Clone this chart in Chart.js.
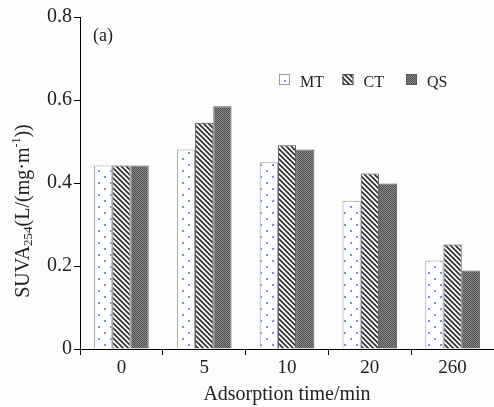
<!DOCTYPE html>
<html>
<head>
<meta charset="utf-8">
<script src="https://cdn.jsdelivr.net/npm/chart.js@4.4.0/dist/chart.umd.min.js"></script>
<style>
  html, body { margin: 0; padding: 0; background: #fdfdfd; }
  #wrap { width: 494px; height: 407px; }
</style>
</head>
<body>
<div id="wrap"><canvas id="suvaChart" width="494" height="407"></canvas></div>
<script>
// Data
const times = ["0", "5", "10", "20", "260"];
const mtValues = [0.442, 0.481, 0.450, 0.357, 0.213];
const ctValues = [0.442, 0.545, 0.491, 0.423, 0.252];
const qsValues = [0.442, 0.585, 0.481, 0.399, 0.189];
const yTicks = [0, 0.2, 0.4, 0.6, 0.8];

const serif = "'Liberation Serif', 'Times New Roman', serif";

// Fill patterns for the bars
function makePattern(w, h, draw) {
  const tile = document.createElement("canvas");
  tile.width = w;
  tile.height = h;
  draw(tile.getContext("2d"));
  return document.createElement("canvas").getContext("2d").createPattern(tile, "repeat");
}

const dotPattern = makePattern(12, 12, function (c) {
  c.fillStyle = "#ffffff";
  c.fillRect(0, 0, 12, 12);
  c.fillStyle = "#7196e2";
  c.fillRect(2, 2, 2, 2);
  c.fillRect(8, 8, 2, 2);
});

const stripePattern = makePattern(5, 5, function (c) {
  c.fillStyle = "#ffffff";
  c.fillRect(0, 0, 5, 5);
  c.strokeStyle = "#333333";
  c.lineWidth = 1.8;
  c.beginPath();
  c.moveTo(-1, -1); c.lineTo(6, 6);
  c.moveTo(-1, 4); c.lineTo(1, 6);
  c.moveTo(4, -1); c.lineTo(6, 1);
  c.stroke();
});

const checkPattern = makePattern(2, 2, function (c) {
  c.fillStyle = "#8a8a8a";
  c.fillRect(0, 0, 2, 2);
  c.fillStyle = "#4e4e4e";
  c.fillRect(0, 0, 1, 1);
  c.fillRect(1, 1, 1, 1);
});

// Y axis title with subscript and superscript, "(a)" tag and the legend
const extrasPlugin = {
  id: "extras",
  afterDraw(chart) {
    const ctx = chart.ctx;
    ctx.save();
    ctx.fillStyle = "#222";
    ctx.textBaseline = "alphabetic";

    // (a)
    ctx.font = "18px " + serif;
    ctx.textAlign = "left";
    ctx.fillText("(a)", 93, 41);

    // y title
    const parts = [
      { t: "SUVA", size: 20, dy: 0 },
      { t: "254", size: 13, dy: 3 },
      { t: "(L/(mg\u00b7m", size: 20, dy: 0 },
      { t: "-1", size: 12, dy: -9 },
      { t: "))", size: 20, dy: 0 }
    ];
    let total = 0;
    parts.forEach(p => {
      ctx.font = p.size + "px " + serif;
      p.w = ctx.measureText(p.t).width;
      total += p.w;
    });
    ctx.translate(29, 211);
    ctx.rotate(-Math.PI / 2);
    let x = -total / 2;
    parts.forEach(p => {
      ctx.font = p.size + "px " + serif;
      ctx.fillText(p.t, x, p.dy);
      x += p.w;
    });
    ctx.setTransform(1, 0, 0, 1, 0, 0);

    // legend
    const startX = 279, stepX = 63.5, boxY = 74;
    ctx.font = "16px " + serif;
    chart.data.datasets.forEach((ds, i) => {
      const bx = startX + i * stepX;
      ctx.fillStyle = ds.backgroundColor;
      ctx.fillRect(bx, boxY, 10, 10);
      ctx.strokeStyle = ds.borderColor;
      ctx.lineWidth = 1;
      ctx.strokeRect(bx + 0.5, boxY + 0.5, 10, 10);
      ctx.fillStyle = "#222";
      ctx.fillText(ds.label, bx + 21, 87);
    });
    ctx.restore();
  }
};

new Chart(document.getElementById("suvaChart"), {
  type: "bar",
  data: {
    labels: times,
    datasets: [
      { label: "MT", data: mtValues, backgroundColor: dotPattern, borderColor: "#9a9a9a", borderWidth: 1 },
      { label: "CT", data: ctValues, backgroundColor: stripePattern, borderColor: "#444444", borderWidth: 1 },
      { label: "QS", data: qsValues, backgroundColor: checkPattern, borderColor: "#5a5a5a", borderWidth: 1 }
    ]
  },
  options: {
    responsive: false,
    animation: false,
    devicePixelRatio: 1,
    layout: { padding: { top: 17, right: 0, left: 0, bottom: 0 } },
    datasets: { bar: { categoryPercentage: 0.66, barPercentage: 1.0 } },
    plugins: {
      legend: { display: false },
      tooltip: { enabled: false }
    },
    scales: {
      x: {
        grid: { display: true, drawOnChartArea: false, color: "#000", tickLength: 6, offset: true },
        border: { color: "#000", width: 1 },
        ticks: { color: "#222", font: { family: serif, size: 19 }, padding: 2 },
        title: { display: true, text: "Adsorption time/min", color: "#222", font: { family: serif, size: 20 }, padding: { top: 0, bottom: 0 } },
        afterFit(scale) { scale.height = 58; }
      },
      y: {
        min: 0,
        max: 0.8,
        afterBuildTicks(scale) { scale.ticks = yTicks.map(v => ({ value: v })); },
        grid: { display: true, drawOnChartArea: false, color: "#000", tickLength: 6 },
        border: { color: "#000", width: 1 },
        ticks: {
          color: "#222",
          font: { family: serif, size: 20 },
          padding: 2,
          callback: v => (v === 0 ? "0" : v.toFixed(1))
        },
        afterFit(scale) { scale.width = 80; }
      }
    }
  },
  plugins: [extrasPlugin]
});
</script>
</body>
</html>
